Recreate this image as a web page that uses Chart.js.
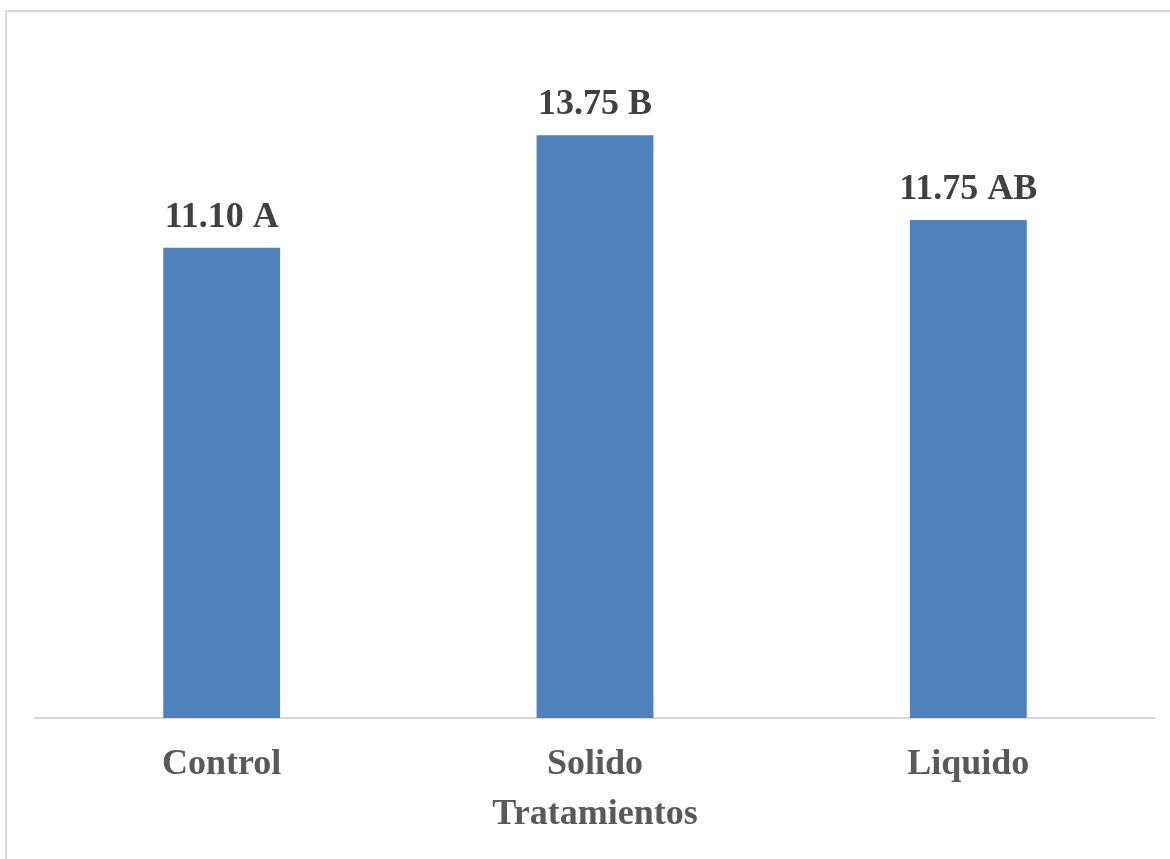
<!DOCTYPE html>
<html>
<head>
<meta charset="utf-8">
<script src="https://cdn.jsdelivr.net/npm/chart.js@4.4.1/dist/chart.umd.min.js"></script>
<style>
  html, body { margin: 0; padding: 0; background: #ffffff; overflow: hidden; }
  #wrap { position: relative; width: 1170px; height: 859px; }
</style>
</head>
<body>
<div id="wrap"><canvas id="chart" width="1170" height="859"></canvas></div>
<script>
// Treatment groups and their mean values with significance letters
const categories = ['Control', 'Solido', 'Liquido'];
const means = [11.10, 13.75, 11.75];
const groupLetters = ['A', 'B', 'AB'];
const axisTitle = 'Tratamientos';

const serif = "'Liberation Serif', 'Times New Roman', serif";

// Light frame drawn around the plot surface
const framePlugin = {
  id: 'frame',
  beforeDraw(chart) {
    const ctx = chart.ctx;
    ctx.save();
    ctx.fillStyle = '#ffffff';
    ctx.fillRect(0, 0, chart.width, chart.height);
    ctx.strokeStyle = '#d9d9d9';
    ctx.lineWidth = 2;
    ctx.strokeRect(6, 11, chart.width + 20, chart.height + 20);
    ctx.restore();
  }
};

// Value + letter labels above each bar
const valueLabelPlugin = {
  id: 'valueLabels',
  afterDatasetsDraw(chart) {
    const ctx = chart.ctx;
    const meta = chart.getDatasetMeta(0);
    ctx.save();
    ctx.font = "bold 36px " + serif;
    ctx.fillStyle = '#404040';
    ctx.textAlign = 'center';
    ctx.textBaseline = 'alphabetic';
    meta.data.forEach((bar, i) => {
      const text = means[i].toFixed(2) + ' ' + groupLetters[i];
      ctx.fillText(text, bar.x, bar.y - 21);
    });
    ctx.restore();
  }
};

new Chart(document.getElementById('chart'), {
  type: 'bar',
  data: {
    labels: categories,
    datasets: [{
      data: means,
      backgroundColor: '#4f81bd',
      borderWidth: 0,
      categoryPercentage: 0.626,
      barPercentage: 0.5
    }]
  },
  options: {
    responsive: false,
    animation: false,
    layout: { padding: { left: 35, right: 15, top: 40, bottom: 19 } },
    plugins: {
      legend: { display: false },
      tooltip: { enabled: false }
    },
    scales: {
      x: {
        afterFit(scale) { scale.height = 122; },
        grid: { display: false, drawTicks: false },
        border: { display: true, color: '#d9d9d9', width: 2 },
        ticks: {
          padding: 25,
          color: '#595959',
          font: { family: serif, size: 36, weight: 'bold' }
        },
        title: {
          display: true,
          text: axisTitle,
          color: '#595959',
          padding: { top: 0, bottom: 4 },
          font: { family: serif, size: 36, weight: 'bold' }
        }
      },
      y: {
        display: false,
        min: 0,
        max: 16
      }
    }
  },
  plugins: [framePlugin, valueLabelPlugin]
});
</script>
</body>
</html>
